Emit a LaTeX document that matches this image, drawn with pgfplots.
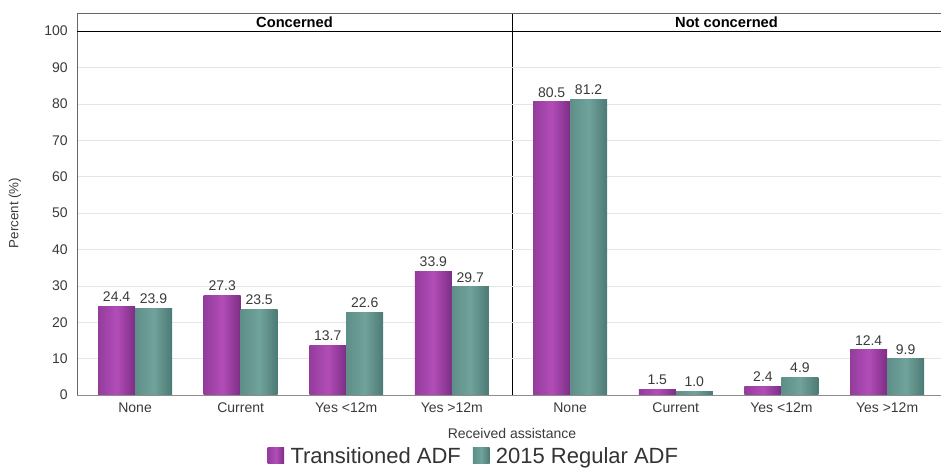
\documentclass[border=0pt]{standalone}
\usepackage{pgfplots}
\pgfplotsset{compat=1.18}
\usepackage{fontspec}
\setmainfont{Liberation Sans}
\definecolor{pL}{HTML}{943C9C}
\definecolor{pM}{HTML}{B24DB8}
\definecolor{pR}{HTML}{7C2E84}
\definecolor{tL}{HTML}{5E8E88}
\definecolor{tM}{HTML}{70A39B}
\definecolor{tR}{HTML}{4C7A74}
\definecolor{txt}{HTML}{3A3A3A}
\pgfplotsset{
  panel/.style={
    scale only axis, height=273pt, ymin=0, ymax=100,
    ytick={0,10,...,100}, ymajorgrids, grid style={black!10},
    major tick length=0pt, axis line style={draw=none},
    xmin=-0.55, xtick={0,1,2,3},
    xticklabels={None,Current,Yes <12m,Yes >12m},
    ybar=0pt, bar width=0.35,
    clip=false,
    /pgf/number format/assume math mode=true,
    tick label style={font=\fontsize{10.5}{12}\selectfont, text=txt},
    xticklabel style={yshift=-2pt},
    nodes near coords,
    every node near coord/.append style={font=\fontsize{10.5}{12}\selectfont, text=txt,
      /pgf/number format/.cd, fixed, fixed zerofill, precision=1, assume math mode=true},
  },
  purp/.style={draw=none, left color=pL, right color=pR, middle color=pM},
  teal/.style={draw=none, left color=tL, right color=tR, middle color=tM},
}
% one bar per \addplot so that each bar gets its own shading
\newcommand\pb[2]{\addplot[purp, bar shift=-0.175, forget plot] coordinates {(#1,#2)};}
\newcommand\tb[2]{\addplot[teal, bar shift=0.175, forget plot] coordinates {(#1,#2)};}
\begin{document}
\begin{tikzpicture}
\begin{axis}[panel, name=left, width=326.25pt, xmax=3.57,
  yticklabel style={xshift=-3.5pt},
  legend style={at={(0.913,-0.168)}, anchor=center, draw=none, fill=none,
    legend columns=2, font=\fontsize{16.5}{19}\selectfont, text=black!80,
    /tikz/every even column/.append style={column sep=7pt},
    /tikz/inner sep=0pt},
  legend image code/.code={\path[#1] (0pt,-5.5pt) rectangle (12.5pt,6.5pt);},
]
\pb{0}{24.4} \pb{1}{27.3} \pb{2}{13.7} \pb{3}{33.9}
\tb{0}{23.9} \tb{1}{23.5} \tb{2}{22.6} \tb{3}{29.7}
\addlegendimage{purp}
\addlegendimage{teal}
\legend{\,Transitioned ADF,\,2015 Regular ADF}
\coordinate (L0) at (rel axis cs:0,0);
\draw[black!60] (rel axis cs:0,0) -- ([yshift=13.5pt]rel axis cs:0,1) -- ([yshift=13.5pt]rel axis cs:1,1);
\draw[black!45] (rel axis cs:0,0) -- (rel axis cs:1,0);
\draw[black] (rel axis cs:0,1) -- (rel axis cs:1,1);
\draw[black] (rel axis cs:1,0) -- ([yshift=13.5pt]rel axis cs:1,1);
\node[font=\bfseries\fontsize{11}{13}\selectfont] at ([yshift=6.75pt]rel axis cs:0.5,1) {Concerned};
\node[rotate=90, font=\fontsize{10}{12}\selectfont, text=txt] at ([xshift=-46.5pt]rel axis cs:0,0.5) {Percent (\%)};
\node[font=\fontsize{10.5}{12}\selectfont, text=txt] at ([yshift=-28.5pt]rel axis cs:1,0) {Received assistance};
\end{axis}
\begin{axis}[panel, at={(left.south east)}, anchor=south west, width=321.75pt, xmax=3.51,
  yticklabels={}]
\pb{0}{80.5} \pb{1}{1.5} \pb{2}{2.4} \pb{3}{12.4}
\tb{0}{81.2} \tb{1}{1.0} \tb{2}{4.9} \tb{3}{9.9}
\draw[black!45] (rel axis cs:0,0) -- (rel axis cs:1,0);
\draw[black] (rel axis cs:0,1) -- (rel axis cs:1,1);
\draw[black!60] ([yshift=13.5pt]rel axis cs:0,1) -- ([yshift=13.5pt]rel axis cs:1,1);
\node[font=\bfseries\fontsize{11}{13}\selectfont] at ([yshift=6.75pt]rel axis cs:0.5,1) {Not concerned};
\end{axis}
\pgfresetboundingbox
\path[use as bounding box] ([shift={(-57.75pt,-56.25pt)}]L0) rectangle ++(705.75pt,352.5pt);
\end{tikzpicture}
\end{document}
